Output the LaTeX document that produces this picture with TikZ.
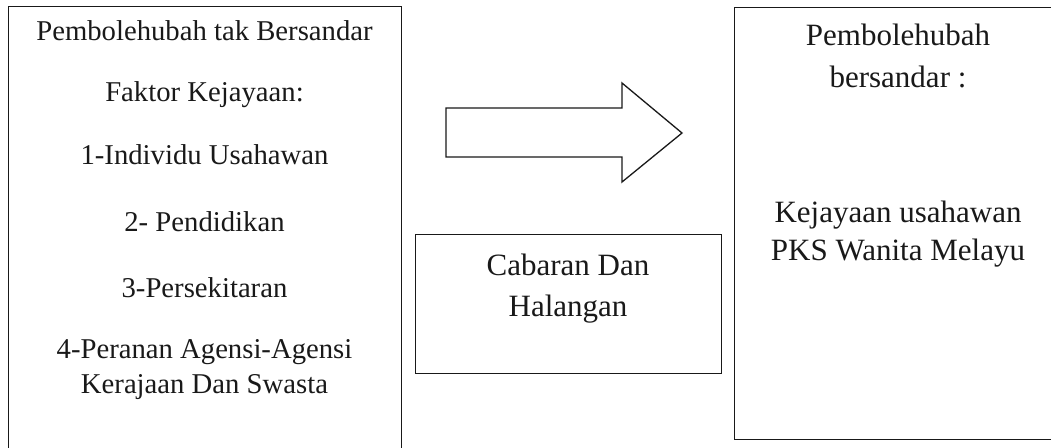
\documentclass[tikz,border=0pt]{standalone}
\usepackage{fontspec}
\setmainfont{Liberation Serif}
\begin{document}
\begin{tikzpicture}[x=1pt,y=-1pt,
  boxshape/.style={draw=black!90, line width=1.2pt, rectangle, inner sep=0pt, anchor=north west},
  txt/.style={font=\fontsize{31}{36}\selectfont, inner sep=0pt, anchor=base, text=black!90},
  ltxt/.style={txt, font=\fontsize{28.7}{34}\selectfont},
  arrowshape/.style={draw=black!90, line width=1.3pt, line join=miter}]
\useasboundingbox (0,0) rectangle (1051,447);
\clip (0,0) rectangle (1051,447);
% boxes
\node[boxshape, minimum width=393pt, minimum height=460pt] (leftbox) at (8,6) {};
\node[boxshape, minimum width=306pt, minimum height=139pt] (midbox) at (415,234) {};
\node[boxshape, minimum width=330pt, minimum height=432pt] (rightbox) at (734,7) {};
% big outline arrow
\coordinate (a1) at (446,108);
\coordinate (a2) at (622,108);
\coordinate (a3) at (622,83);
\coordinate (a4) at (682,133);
\coordinate (a5) at (622,182);
\coordinate (a6) at (622,157);
\coordinate (a7) at (446,157);
\draw[arrowshape] (a1) -- (a2) -- (a3) -- (a4) -- (a5) -- (a6) -- (a7) -- cycle;
% left texts
\node[ltxt] (l1) at (204.5,40) {Pembolehubah tak Bersandar};
\node[ltxt] (l2) at (204.5,101) {Faktor Kejayaan:};
\node[ltxt] (l3) at (204.5,164) {1-Individu Usahawan};
\node[ltxt] (l4) at (204.5,231) {2- Pendidikan};
\node[ltxt] (l5) at (204.5,297) {3-Persekitaran};
\node[ltxt] (l6) at (204.5,358) {4-Peranan Agensi-Agensi};
\node[ltxt] (l7) at (204.5,393) {Kerajaan Dan Swasta};
% middle texts
\node[txt] (m1) at (568,275) {Cabaran Dan};
\node[txt] (m2) at (568,316) {Halangan};
% right texts
\node[txt] (r1) at (898,45) {Pembolehubah};
\node[txt] (r2) at (898,87) {bersandar :};
\node[txt] (r3) at (898,222) {Kejayaan usahawan};
\node[txt] (r4) at (898,260) {PKS Wanita Melayu};
\end{tikzpicture}
\end{document}
